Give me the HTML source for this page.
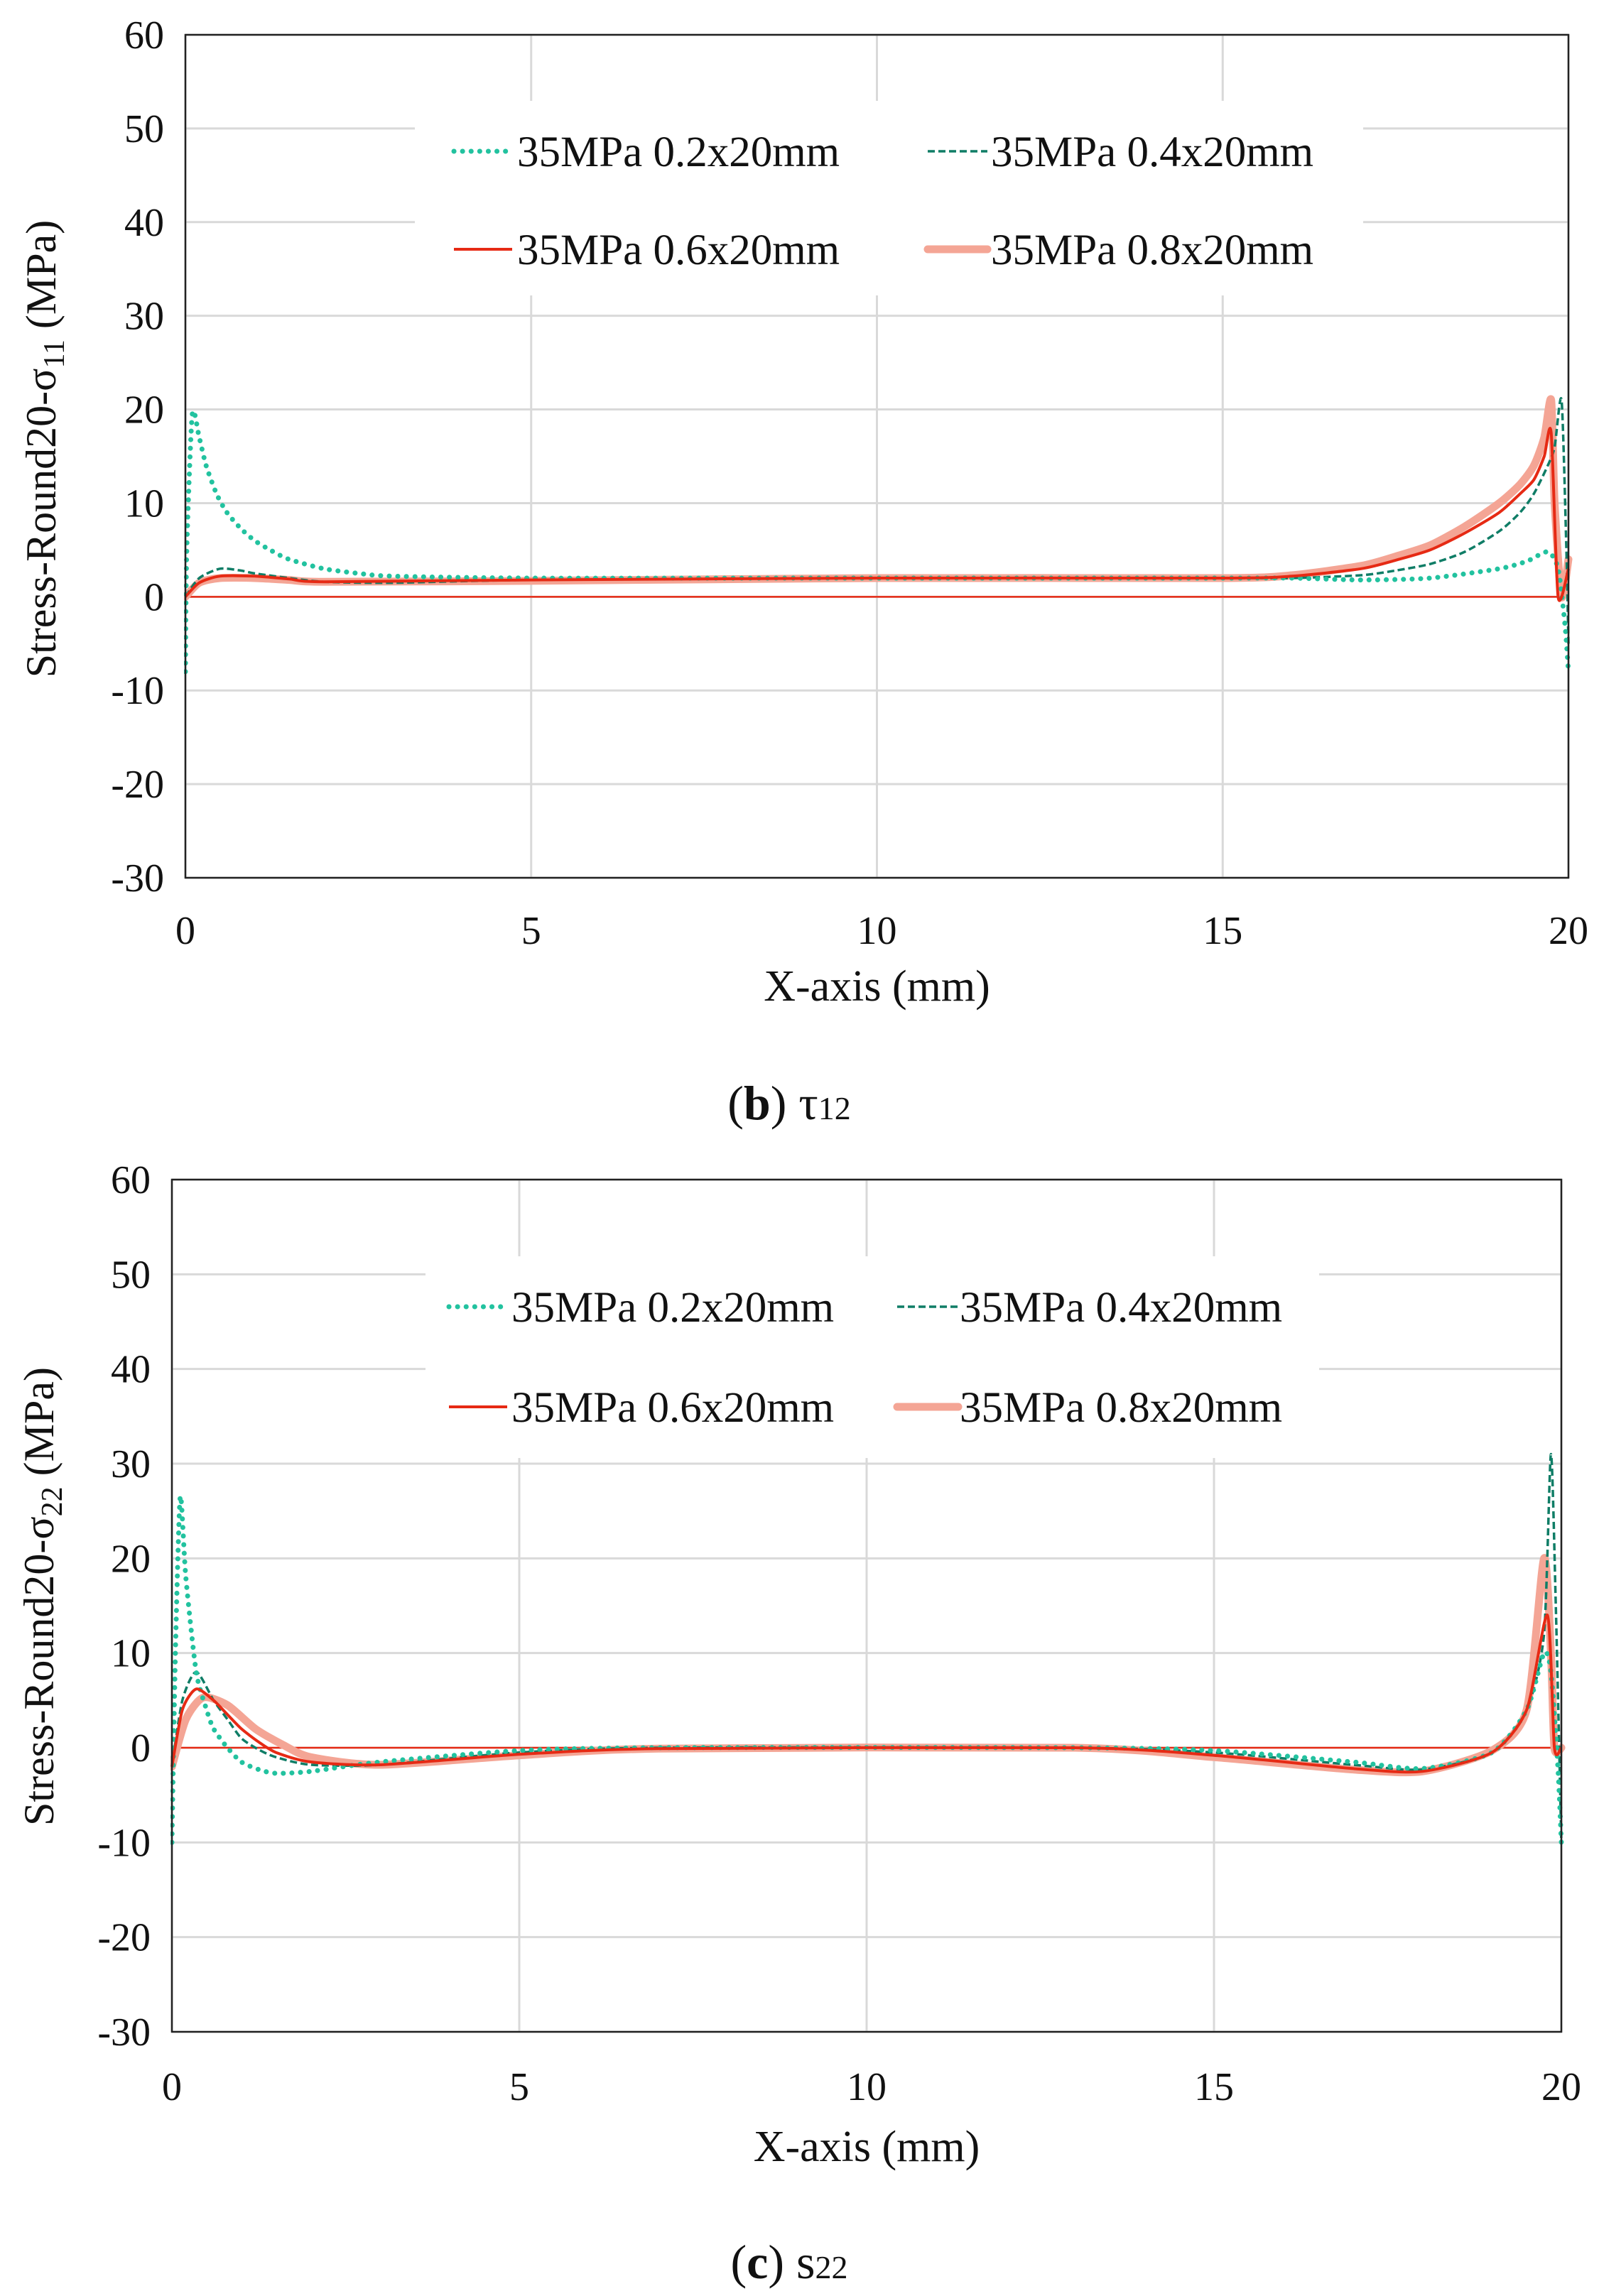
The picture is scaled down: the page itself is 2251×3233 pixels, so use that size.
<!DOCTYPE html>
<html><head><meta charset="utf-8">
<style>
html,body{margin:0;padding:0;background:#fff;}
svg{display:block;font-family:"Liberation Serif",serif;}
</style></head>
<body>
<svg id="fig" width="2251" height="3233" viewBox="0 0 2251 3233"></svg>
<script>
// ---- chart data (top: sigma11 / tau12) ----
const topX02 = [0,0.02,0.1,0.2,0.3,0.45,0.6,0.8,1,1.25,1.5,2,2.5,3,5,10,15,16,17,18,19,19.4,19.7,19.85,19.95,20];
const topY02 = [-8,5,19.5,17,14,11,9,7.3,6,4.9,4,3,2.5,2.2,2,2,2,2,1.8,2,3,3.8,4.8,3,-3,-8];
const topX04 = [0,0.2,0.5,0.8,1,1.5,2,3,5,10,15,16,17,17.5,18,18.5,19,19.3,19.5,19.7,19.8,19.9,19.97,20];
const topY04 = [0,2,3,2.8,2.5,2,1.6,1.5,1.8,2,2,2,2.3,2.8,3.5,4.8,7,9,11,14,16,21,5,-5];
const topX06 = [0,0.2,0.5,1,1.5,2,5,10,15,16,17,17.5,18,18.5,19,19.3,19.5,19.65,19.75,19.85,20];
const topY06 = [0,1.5,2.2,2.2,1.9,1.6,1.8,2,2,2.2,3,3.9,5,6.8,9,11,12.5,15,17.5,0,3];
const topX08 = [0,0.2,0.5,1,1.5,2,5,10,15,16,17,17.5,18,18.5,19,19.3,19.5,19.65,19.75,19.8,19.9,20];
const topY08 = [0,1.5,2,2,1.8,1.6,1.7,2,2,2.3,3.3,4.3,5.5,7.5,10,12,14,17,21,10,0,4];
// ---- chart data (bottom: sigma22) ----
const botX02 = [0,0.05,0.12,0.2,0.35,0.5,0.6,0.8,1,1.25,1.5,2,3,5,7,13,15,17,18,19,19.5,19.75,19.85,19.95,20];
const botY02 = [-10,10,26.5,18,8,4,2,0,-1.5,-2.3,-2.7,-2.5,-1.5,-0.3,0,0,-0.3,-1.5,-2.2,-0.5,4,10,8,-2,-10];
const botX04 = [0,0.15,0.35,0.6,0.8,1,1.25,1.5,2,3,5,7,13,15,17,18,19,19.5,19.75,19.85,19.92,20];
const botY04 = [-2,5,8,5,3,1,-0.2,-1,-1.8,-1.8,-0.5,0,0,-0.5,-1.8,-2.3,-0.5,4,12,31,15,-10];
const botX06 = [0,0.15,0.35,0.6,0.8,1,1.25,1.5,2,3,5,7,13,15,17,18,19,19.5,19.8,19.9,20];
const botY06 = [-2,4,6.2,5,3.5,2,0.6,-0.5,-1.5,-1.8,-0.7,-0.1,0,-0.8,-2.2,-2.5,-0.5,4,14,0,0];
const botX08 = [0,0.2,0.45,0.8,1.2,1.6,2,3,5,7,13,15,17,18,19,19.5,19.75,19.85,19.9,20];
const botY08 = [-2,3,5.3,4.5,2,0.3,-1,-1.8,-0.8,-0.1,0,-1,-2.3,-2.5,-0.3,4,20,10,0,0];
const xTicks = [0,5,10,15,20];
const yTicks = [60,50,40,30,20,10,0,-10,-20,-30];
const legendLabels = ["35MPa 0.2x20mm","35MPa 0.4x20mm","35MPa 0.6x20mm","35MPa 0.8x20mm"];

const NS="http://www.w3.org/2000/svg";
const svg=document.getElementById('fig');
function mk(tag,attrs,parent){const e=document.createElementNS(NS,tag);for(const k in attrs)e.setAttribute(k,attrs[k]);(parent||svg).appendChild(e);return e;}

const styles=[
 {stroke:"#22c29f",w:7,dash:"0.1 12",cap:"round"},
 {stroke:"#0f7d66",w:3.5,dash:"10 5",cap:"butt"},
 {stroke:"#e62a14",w:4,dash:"",cap:"butt"},
 {stroke:"#f4a595",w:11,dash:"",cap:"round"}
];

function smoothPath(p){
 let d="M"+p[0][0].toFixed(1)+","+p[0][1].toFixed(1);
 for(let i=0;i<p.length-1;i++){
  const p0=p[i-1]||p[i],p1=p[i],p2=p[i+1],p3=p[i+2]||p2;
  const t=0.12;
  const c1=[p1[0]+(p2[0]-p0[0])*t,p1[1]+(p2[1]-p0[1])*t];
  const c2=[p2[0]-(p3[0]-p1[0])*t,p2[1]-(p3[1]-p1[1])*t];
  d+=" C"+c1.map(v=>v.toFixed(1)).join(",")+" "+c2.map(v=>v.toFixed(1)).join(",")+" "+p2[0].toFixed(1)+","+p2[1].toFixed(1);
 }
 return d;
}

let cid=0;
function drawChart(cfg){
 const g=mk('g',{});
 
 
 const sx=v=>cfg.L+(v-0)/20*(cfg.R-cfg.L);
 const sy=v=>cfg.T+(60-v)/90*(cfg.B-cfg.T);
 const clipId='clip'+(cid++);
 const cp=mk('clipPath',{id:clipId},g);
 mk('rect',{x:cfg.L-2,y:cfg.T,width:cfg.R-cfg.L+14,height:cfg.B-cfg.T},cp);
 yTicks.forEach(t=>{const l=mk('line',{x1:cfg.L,x2:cfg.R,y1:sy(t),y2:sy(t),stroke:"#d9d9d9","stroke-width":3},g);
  });
 xTicks.forEach(t=>{const l=mk('line',{x1:sx(t),x2:sx(t),y1:cfg.T,y2:cfg.B,stroke:"#d9d9d9","stroke-width":3},g);
  });
 const lb=mk('rect',{x:cfg.lg.x0,y:cfg.lg.y0,width:cfg.lg.x1-cfg.lg.x0,height:cfg.lg.y1-cfg.lg.y0,fill:"#fff"},g);
 
 const z=mk('line',{x1:sx(0),x2:sx(20),y1:sy(0),y2:sy(0),stroke:"#e62a14","stroke-width":2.5},g);
 
 const sg=mk('g',{"clip-path":"url(#"+clipId+")"},g);
 [3,1,0,2].forEach(i=>{
  const xs=cfg.series[i][0],ys=cfg.series[i][1],s=styles[i];
  const pts=xs.map((x,k)=>[sx(x),sy(ys[k])]);
  const p=mk('path',{d:smoothPath(pts),fill:"none",stroke:s.stroke,"stroke-width":s.w,"stroke-dasharray":s.dash,"stroke-linecap":s.cap,"stroke-linejoin":"round"},sg);
  
  
 });
 const fr=mk('rect',{x:cfg.L,y:cfg.T,width:cfg.R-cfg.L,height:cfg.B-cfg.T,fill:"none",stroke:"#222","stroke-width":2.5},g);
 
 yTicks.forEach(t=>{const tx=mk('text',{x:cfg.L-30,y:sy(t)+19,"text-anchor":"end","font-size":56,fill:"#111"},g);tx.textContent=t;
  });
 xTicks.forEach(t=>{const tx=mk('text',{x:sx(t),y:cfg.xtY+19,"text-anchor":"middle","font-size":56,fill:"#111"},g);tx.textContent=t;
  });
 const xt=mk('text',{x:(cfg.L+cfg.R)/2,y:cfg.xTitleY+20,"text-anchor":"middle","font-size":62,fill:"#111"},g);xt.textContent="X-axis (mm)";
 
 const yt=mk('text',{x:0,y:0,"text-anchor":"middle","font-size":60,fill:"#111",transform:`translate(${cfg.yTitleX+20},${cfg.yTitleY}) rotate(-90)`},g);
 
 yt.innerHTML='Stress-Round20-σ<tspan font-size="42" dy="12">'+cfg.sub+'</tspan><tspan dy="-12"> (MPa)</tspan>';
 const cols=[[cfg.lg.c1s,cfg.lg.c1e,cfg.lg.c1t],[cfg.lg.c2s,cfg.lg.c2e,cfg.lg.c2t]];
 const rows=[cfg.lg.r1,cfg.lg.r2];
 [0,1,2,3].forEach(i=>{
  const c=cols[i%2],r=rows[Math.floor(i/2)],s=styles[i];
  const eg=mk('g',{},g);
  
  mk('line',{x1:c[0],x2:c[1],y1:r,y2:r,stroke:s.stroke,"stroke-width":s.w,"stroke-dasharray":s.dash,"stroke-linecap":s.cap},eg);
  const tx=mk('text',{x:c[2],y:r+21,"font-size":61,fill:"#111"},eg);tx.textContent=legendLabels[i];
 });
 const cap=mk('text',{x:cfg.capX,y:cfg.capY+22,"text-anchor":"middle","font-size":68,fill:"#111"},g);
 
 cap.innerHTML=cfg.cap;
}

drawChart({name:'chart-tau12',L:261,R:2208,T:49,B:1236,xtY:1310,xTitleY:1389,yTitleX:58,yTitleY:632,sub:'11',
 capX:1111,capY:1554,cap:'(<tspan font-weight="bold">b</tspan>) τ<tspan font-size="46">12</tspan>',
 lg:{x0:584,x1:1919,y0:142,y1:416,r1:213,r2:351,c1s:639,c1e:721,c1t:728,c2s:1306,c2e:1390,c2t:1395},
 series:[[topX02,topY02],[topX04,topY04],[topX06,topY06],[topX08,topY08]]});
drawChart({name:'chart-s22',L:242,R:2198,T:1661,B:2861,xtY:2938,xTitleY:3023,yTitleX:55,yTitleY:2248,sub:'22',
 capX:1111,capY:3186,cap:'(<tspan font-weight="bold">c</tspan>) s<tspan font-size="46">22</tspan>',
 lg:{x0:599,x1:1857,y0:1769,y1:2053,r1:1840,r2:1981,c1s:632,c1e:714,c1t:720,c2s:1263,c2e:1349,c2t:1351},
 series:[[botX02,botY02],[botX04,botY04],[botX06,botY06],[botX08,botY08]]});
</script>
</body></html>
